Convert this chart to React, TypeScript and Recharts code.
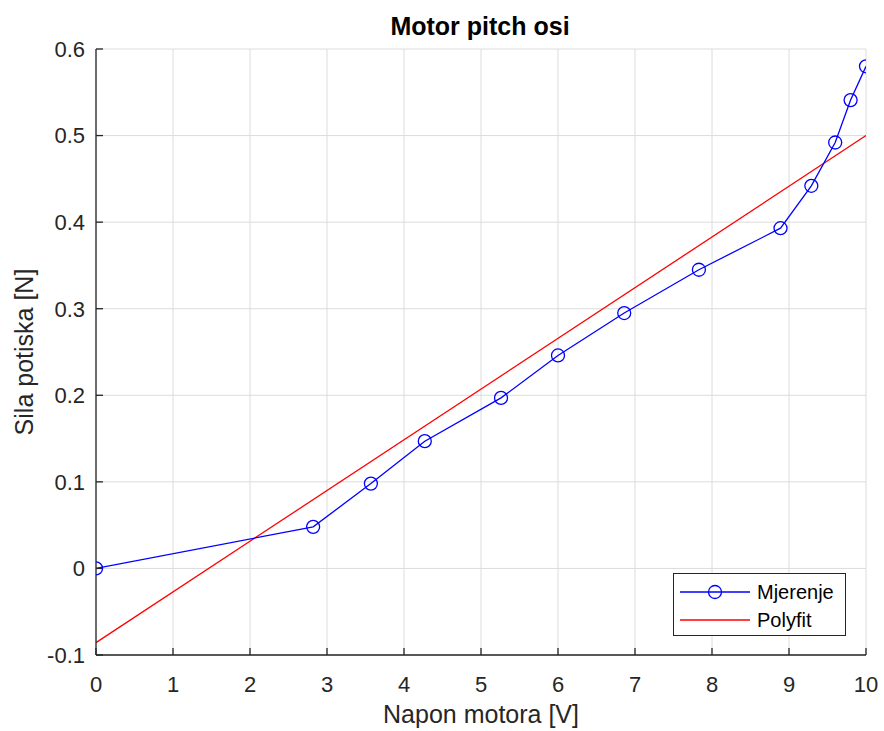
import { CartesianGrid, Legend, Line, LineChart, XAxis, YAxis } from "recharts";

const FONT = '"Liberation Sans", Arial, Helvetica, sans-serif';
const AXIS_COLOR = "#262626";

// Mjerenje: napon motora [V] vs sila potiska [N]
const napon = [0, 2.82, 3.57, 4.27, 5.26, 6.0, 6.86, 7.83, 8.89, 9.29, 9.6, 9.8, 10];
const sila = [0, 0.048, 0.098, 0.147, 0.197, 0.246, 0.295, 0.345, 0.393, 0.442, 0.492, 0.541, 0.58];

// Polyfit (1st order) endpoints
const fitNapon = [0, 10];
const fitSila = [-0.0857, 0.5];

const xTicks = [0, 1, 2, 3, 4, 5, 6, 7, 8, 9, 10];
const yTicks = [-0.1, 0, 0.1, 0.2, 0.3, 0.4, 0.5, 0.6];

const mjerenje = napon.map((x, i) => ({ x, y: sila[i] }));
const polyfit = fitNapon.map((x, i) => ({ x, y: fitSila[i] }));

const BLUE = "#0000ff";
const RED = "#ff0000";

function LegendBox() {
  return (
    <div
      style={{
        width: 173,
        height: 63,
        boxSizing: "border-box",
        border: `1px solid ${AXIS_COLOR}`,
        background: "#fff",
      }}
    >
      <svg width={171} height={61} style={{ display: "block" }}>
        <line x1={6} x2={76} y1={18} y2={18} stroke={BLUE} strokeWidth={1.3} />
        <circle cx={41} cy={18} r={6.5} fill="none" stroke={BLUE} strokeWidth={1.3} />
        <text x={83} y={25} fontSize={20} fontFamily={FONT} fill="#000">
          Mjerenje
        </text>
        <line x1={6} x2={76} y1={46} y2={46} stroke={RED} strokeWidth={1.3} />
        <text x={83} y={53} fontSize={20} fontFamily={FONT} fill="#000">
          Polyfit
        </text>
      </svg>
    </div>
  );
}

export default function App() {
  const tick = { fill: AXIS_COLOR, fontSize: 22, fontFamily: FONT };
  const axisLine = { stroke: AXIS_COLOR, strokeWidth: 1.3 };
  const tickLine = { stroke: AXIS_COLOR, strokeWidth: 1.3 };
  return (
    <div style={{ position: "absolute", left: 0, top: 0, width: 884, height: 731, background: "#fff" }}>
      <LineChart width={884} height={731} margin={{ top: 49, right: 18, left: 0, bottom: 0 }}>
        <CartesianGrid stroke="#dcdcdc" strokeWidth={1} />
        <XAxis
          dataKey="x"
          type="number"
          domain={[0, 10]}
          ticks={xTicks}
          height={76}
          tick={tick}
          tickSize={-7}
          tickMargin={28}
          axisLine={axisLine}
          tickLine={tickLine}
          allowDataOverflow
        />
        <XAxis
          xAxisId="top"
          orientation="top"
          dataKey="x"
          type="number"
          domain={[0, 10]}
          ticks={xTicks}
          height={0}
          tick={false}
          tickSize={-7}
          axisLine={axisLine}
          tickLine={tickLine}
        />
        <YAxis
          dataKey="y"
          type="number"
          domain={[-0.1, 0.6]}
          ticks={yTicks}
          width={96}
          tick={tick}
          tickSize={-7}
          tickMargin={18}
          axisLine={axisLine}
          tickLine={tickLine}
          allowDataOverflow
        />
        <YAxis
          yAxisId="right"
          orientation="right"
          dataKey="y"
          type="number"
          domain={[-0.1, 0.6]}
          ticks={yTicks}
          width={0}
          tick={false}
          tickSize={-7}
          axisLine={axisLine}
          tickLine={tickLine}
        />
        <Line
          data={polyfit}
          dataKey="y"
          name="Polyfit"
          type="linear"
          stroke={RED}
          strokeWidth={1.3}
          dot={false}
          activeDot={false}
          isAnimationActive={false}
        />
        <Line
          data={mjerenje}
          dataKey="y"
          name="Mjerenje"
          type="linear"
          stroke={BLUE}
          strokeWidth={1.3}
          dot={{ r: 6.5, stroke: BLUE, strokeWidth: 1.3, fill: "none" }}
          activeDot={false}
          isAnimationActive={false}
        />
        <Legend
          layout="vertical"
          align="center"
          verticalAlign="middle"
          content={() => <LegendBox />}
          wrapperStyle={{ position: "absolute", left: 673, top: 573, width: 173, height: 63 }}
        />
      </LineChart>
      <svg
        width={884}
        height={731}
        style={{ position: "absolute", left: 0, top: 0, pointerEvents: "none" }}
      >
        <text x={480} y={35} textAnchor="middle" fontSize={25} fontWeight="bold" fontFamily={FONT} fill="#000">
          Motor pitch osi
        </text>
        <text x={481} y={723} textAnchor="middle" fontSize={25} fontFamily={FONT} fill={AXIS_COLOR}>
          Napon motora [V]
        </text>
        <text
          x={0}
          y={0}
          transform="translate(33 352) rotate(-90)"
          textAnchor="middle"
          fontSize={25}
          fontFamily={FONT}
          fill={AXIS_COLOR}
        >
          Sila potiska [N]
        </text>
      </svg>
    </div>
  );
}
